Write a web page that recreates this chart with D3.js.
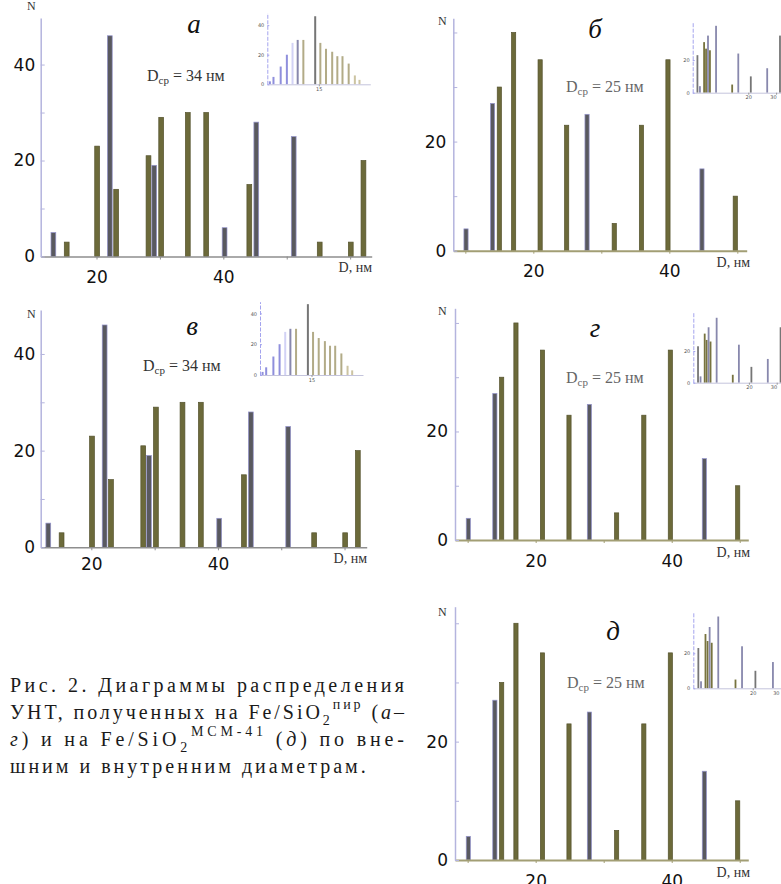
<!DOCTYPE html>
<html>
<head>
<meta charset="utf-8">
<script src="https://cdn.jsdelivr.net/npm/d3@7"></script>
<style>
  body { margin: 0; background: #fff; }
  svg { display: block; }
</style>
</head>
<body>
<svg width="781" height="884"></svg>
<script>
// Panels а and в: diameters (nm), counts, and which diameter the bar is (outer / inner)
var diamA = [13.2, 15.3, 20.1, 22.1, 23.1, 28.2, 29.1, 30.2, 34.4, 37.3, 40.2, 44.1, 45.2, 51.1, 55.2, 60.1, 62.1];
var countA = [5, 3, 23, 46, 14, 21, 19, 29, 30, 30, 6, 15, 28, 25, 3, 3, 20];
var kindA = ["in", "out", "out", "in", "out", "out", "in", "out", "out", "out", "in", "out", "in", "in", "out", "out", "out"];

// Panels б, г, д
var diamB = [10.1, 14.0, 15.0, 17.1, 21.0, 24.9, 27.9, 31.9, 35.9, 39.8, 44.8, 49.7];
var countB = [4, 27, 30, 40, 35, 23, 25, 5, 23, 35, 15, 10];
var kindB = ["in", "in", "out", "out", "out", "out", "in", "out", "out", "out", "in", "out"];

// Small inset histograms
var insetDiamA = [5.5, 6.2, 7.6, 8.8, 9.9, 10.9, 12.0, 14.3, 15.3, 16.4, 17.6, 18.6, 19.6, 20.8, 22.0, 22.9];
var insetCountA = [2, 5, 12, 20, 28, 30, 30, 46, 28, 24, 22, 19, 19, 14, 6, 3];
var insetKindA = ["b", "b", "b", "b", "l", "s", "t", "g", "t", "t", "t", "t", "t", "t", "t2", "t2"];

var insetDiamB = [1.7, 2.6, 4.1, 4.8, 5.5, 6.2, 8.4, 14.2, 16.4, 20.9, 26.8, 31.4];
var insetCountB = [23, 4, 31, 27, 35, 26, 41, 5, 24, 10, 15, 35];
var insetKindB = ["g", "s", "o", "o", "s", "o", "s", "o", "s", "g", "s", "g"];

// Mean diameters and tick labels
var meanA = "34";
var meanB = "25";
var xTickValues = [10, 20, 30, 40, 50, 60];
var xTickLabels = [20, 40];
var yTickValues = [0, 10, 20, 30, 40];
var yTickLabelsA = [0, 20, 40];
var yTickLabelsB = [0, 20];
var insetYTicksA = [0, 20, 40];
var insetYTicksB = [0, 20];
var insetXTicksA = [15];
var insetXTicksB = [20, 30];

var captionLines = [
  [{ t: "Рис. 2. Диаграммы распределения" }],
  [{ t: "УНТ, полученных на Fe/SiO" }, { t: "2", sub: true }, { t: "пир", sup: true }, { t: " (" }, { t: "а", it: true }, { t: "–" }],
  [{ t: "г", it: true }, { t: ") и на Fe/SiO" }, { t: "2", sub: true }, { t: "MCM-41", sup: true }, { t: " (" }, { t: "д", it: true }, { t: ") по вне-" }],
  [{ t: "шним и внутренним диаметрам." }]
];

var sets = {
  A: { diam: diamA, count: countA, kind: kindA, mean: meanA, yLabels: yTickLabelsA,
       iDiam: insetDiamA, iCount: insetCountA, iKind: insetKindA, iY: insetYTicksA, iX: insetXTicksA },
  B: { diam: diamB, count: countB, kind: kindB, mean: meanB, yLabels: yTickLabelsB,
       iDiam: insetDiamB, iCount: insetCountB, iKind: insetKindB, iY: insetYTicksB, iX: insetXTicksB }
};

// Where every panel sits on the page
var layout = [
  { letter: "а", set: "A", x: [40.7, 371.7], xd: [11.2, 63.4], y: [256.5, 18], yd: [0, 49.7],
    barW: 4.8, labelDy: 26.5, yPad: 5.5, xAxisColor: "#8e8e8e", xAxisW: 1.5,
    letterXY: [194, 33], meanXY: [147, 81], meanColor: "#333", nXY: [27, 10], dXY: [372, 272],
    inset: { x: [267.3, 370.3], xd: [5, 25], y: [84.3, 12.7], yd: [0, 48.4], w: 2 } },
  { letter: "б", set: "B", x: [453.3, 746.7], xd: [8.23, 51.38], y: [250.7, 18.3], yd: [0, 42.6],
    barW: 4.2, labelDy: 26.3, yPad: 7, xAxisColor: "#a29e74", xAxisW: 2,
    letterXY: [595, 38], meanXY: [566, 92], meanColor: "#666", nXY: [438, 25], dXY: [750, 267],
    inset: { x: [692.7, 800], xd: [0, 38.6], y: [92.7, 22.7], yd: [0, 42.9], w: 1.8 } },
  { letter: "в", set: "A", x: [40.7, 366.7], xd: [12.0, 63.5], y: [547.3, 310], yd: [0, 49.1],
    barW: 4.8, labelDy: 22.7, yPad: 5.5, xAxisColor: "#8e8e8e", xAxisW: 1.5,
    letterXY: [192, 335], meanXY: [143, 370.7], meanColor: "#333", nXY: [27, 318], dXY: [367, 563],
    inset: { x: [260, 363], xd: [5, 25], y: [375, 301.7], yd: [0, 47.6], w: 2 } },
  { letter: "г", set: "B", x: [455, 748.3], xd: [8.14, 51.26], y: [540, 308.3], yd: [0, 42.7],
    barW: 4.2, labelDy: 26.7, yPad: 7, xAxisColor: "#a29e74", xAxisW: 2,
    letterXY: [595, 337], meanXY: [566, 383], meanColor: "#666", nXY: [438, 315], dXY: [750, 557],
    inset: { x: [693.3, 800.6], xd: [0, 38.6], y: [382.7, 312.7], yd: [0, 44.2], w: 1.8 } },
  { letter: "д", set: "B", x: [455, 748.3], xd: [8.14, 51.26], y: [860, 606.7], yd: [0, 42.8],
    barW: 4.2, labelDy: 27, yPad: 7, xAxisColor: "#a29e74", xAxisW: 2,
    letterXY: [613, 640], meanXY: [567, 688], meanColor: "#666", nXY: [438, 616], dXY: [750, 877],
    inset: { x: [693.3, 808], xd: [0, 38.6], y: [688.3, 612.3], yd: [0, 43.4], w: 1.8 } }
];

var barFill = { out: "#6c6a3a", in: "#59595f" };
var barStroke = { out: "#54522d", in: "#9494cc" };
var insetFill = { b: "#8f8fdc", l: "#d2d2f5", s: "#8888ad", g: "#767676", t: "#b2ab87", t2: "#ccc4a2", o: "#77733f" };

var svg = d3.select("svg");
svg.append("rect").attr("width", 781).attr("height", 884).attr("fill", "#fff");

function drawPanel(p) {
  var s = sets[p.set];
  var g = svg.append("g");
  var x = d3.scaleLinear().domain(p.xd).range(p.x);
  var y = d3.scaleLinear().domain(p.yd).range(p.y);

  var bars = s.diam.map(function(v, i) { return { d: v, n: s.count[i], k: s.kind[i] }; });

  // Bars
  g.selectAll(".bar")
    .data(bars)
    .enter().append("rect")
    .attr("class", "bar")
    .attr("x", function(b) { return x(b.d) - p.barW / 2; })
    .attr("y", function(b) { return y(b.n); })
    .attr("width", p.barW)
    .attr("height", function(b) { return y(0) - y(b.n); })
    .attr("fill", function(b) { return barFill[b.k]; })
    .attr("stroke", function(b) { return barStroke[b.k]; })
    .attr("stroke-width", 0.7);

  // X axis
  var xAxis = d3.axisBottom(x)
    .tickValues(xTickValues.filter(function(v) { return v > p.xd[0] && v < p.xd[1]; }))
    .tickFormat(function(v) { return xTickLabels.indexOf(v) >= 0 ? v : ""; })
    .tickSizeInner(3)
    .tickSizeOuter(0);
  var gx = g.append("g")
    .attr("transform", "translate(0," + y(0) + ")")
    .call(xAxis)
    .attr("font-family", "DejaVu Sans")
    .attr("font-size", 17);
  gx.select(".domain").attr("stroke", p.xAxisColor).attr("stroke-width", p.xAxisW);
  gx.selectAll(".tick line").attr("stroke", p.xAxisColor);
  gx.selectAll(".tick text").attr("y", p.labelDy).attr("dy", null).attr("fill", "#111");

  // Y axis
  var yAxis = d3.axisLeft(y)
    .tickValues(yTickValues.filter(function(v) { return v < p.yd[1]; }))
    .tickFormat(function(v) { return s.yLabels.indexOf(v) >= 0 ? v : ""; })
    .tickSizeInner(-4)
    .tickSizeOuter(0)
    .tickPadding(p.yPad);
  var gy = g.append("g")
    .attr("transform", "translate(" + p.x[0] + ",0)")
    .call(yAxis)
    .attr("font-family", "DejaVu Sans")
    .attr("font-size", 17);
  gy.select(".domain").attr("stroke", "#b4b4de").attr("stroke-width", 1.5);
  gy.selectAll(".tick line").attr("stroke", "#b4b4de");
  gy.selectAll(".tick text").attr("fill", "#111");

  // Axis titles
  g.append("text")
    .attr("x", p.nXY[0]).attr("y", p.nXY[1])
    .attr("font-family", "Liberation Serif").attr("font-size", 12).attr("fill", "#333")
    .text("N");
  g.append("text")
    .attr("x", p.dXY[0]).attr("y", p.dXY[1])
    .attr("text-anchor", "end")
    .attr("font-family", "Liberation Serif").attr("font-size", 14).attr("fill", "#333")
    .text("D, нм");

  // Panel letter
  g.append("text")
    .attr("x", p.letterXY[0]).attr("y", p.letterXY[1])
    .attr("text-anchor", "middle")
    .attr("font-family", "Liberation Serif").attr("font-style", "italic").attr("font-size", 27).attr("fill", "#111")
    .text(p.letter);

  // Mean diameter
  var mean = g.append("text")
    .attr("x", p.meanXY[0]).attr("y", p.meanXY[1])
    .attr("font-family", "Liberation Serif").attr("font-size", 16).attr("fill", p.meanColor);
  mean.append("tspan").text("D");
  mean.append("tspan").attr("font-size", 11).attr("dy", 3).text("ср");
  mean.append("tspan").attr("dy", -3).text(" = " + s.mean + " нм");

  drawInset(p, s);
}

function drawInset(p, s) {
  var q = p.inset;
  var g = svg.append("g");
  var x = d3.scaleLinear().domain(q.xd).range(q.x);
  var y = d3.scaleLinear().domain(q.yd).range(q.y);

  var bars = s.iDiam.map(function(v, i) { return { d: v, n: s.iCount[i], k: s.iKind[i] }; });

  g.selectAll(".ibar")
    .data(bars)
    .enter().append("rect")
    .attr("class", "ibar")
    .attr("x", function(b) { return x(b.d) - q.w / 2; })
    .attr("y", function(b) { return y(b.n); })
    .attr("width", q.w)
    .attr("height", function(b) { return y(0) - y(b.n); })
    .attr("fill", function(b) { return insetFill[b.k]; });

  var gx = g.append("g")
    .attr("transform", "translate(0," + y(0) + ")")
    .call(d3.axisBottom(x).tickValues(s.iX).tickSizeInner(2).tickSizeOuter(0).tickPadding(1))
    .attr("font-family", "DejaVu Sans")
    .attr("font-size", 5);
  gx.select(".domain").attr("stroke", "#c4c4dc").attr("stroke-width", 1);
  gx.selectAll(".tick line").attr("stroke", "#999");
  // keep a label that would run off the right edge inside the page
  gx.selectAll(".tick text").attr("fill", "#555")
    .attr("text-anchor", function(v) { return x(v) > 770 ? "end" : "middle"; })
    .attr("x", function(v) { return x(v) > 778 ? 779 - x(v) : 0; });

  var gy = g.append("g")
    .attr("transform", "translate(" + q.x[0] + ",0)")
    .call(d3.axisLeft(y).tickValues(s.iY).tickSizeInner(-2).tickSizeOuter(0).tickPadding(3))
    .attr("font-family", "DejaVu Sans")
    .attr("font-size", 5);
  gy.select(".domain").attr("stroke", "#a4a4ee").attr("stroke-width", 1).attr("stroke-dasharray", "4,1.5");
  gy.selectAll(".tick line").attr("stroke", "#a4a4ee");
  gy.selectAll(".tick text").attr("fill", "#555");
}

layout.forEach(drawPanel);

// Caption: the first three lines are justified to the same width
var captionTop = 692, captionStep = 27, captionLeft = 10, captionRight = 404;
captionLines.forEach(function(line, i) {
  var t = svg.append("text")
    .attr("x", captionLeft)
    .attr("y", captionTop + i * captionStep)
    .attr("font-family", "Liberation Serif")
    .attr("font-size", 20)
    .attr("fill", "#1a1a1a");
  var shift = 0;
  line.forEach(function(part) {
    var target = part.sub ? 6 : (part.sup ? -10 : 0);
    var ts = t.append("tspan").attr("dy", target - shift).text(part.t);
    shift = target;
    if (part.sub || part.sup) ts.attr("font-size", 14);
    if (part.it) ts.attr("font-style", "italic");
  });
  if (i < captionLines.length - 1) {
    t.attr("textLength", captionRight - captionLeft).attr("lengthAdjust", "spacing");
  } else {
    t.attr("letter-spacing", 3.0);
  }
});
</script>
</body>
</html>
